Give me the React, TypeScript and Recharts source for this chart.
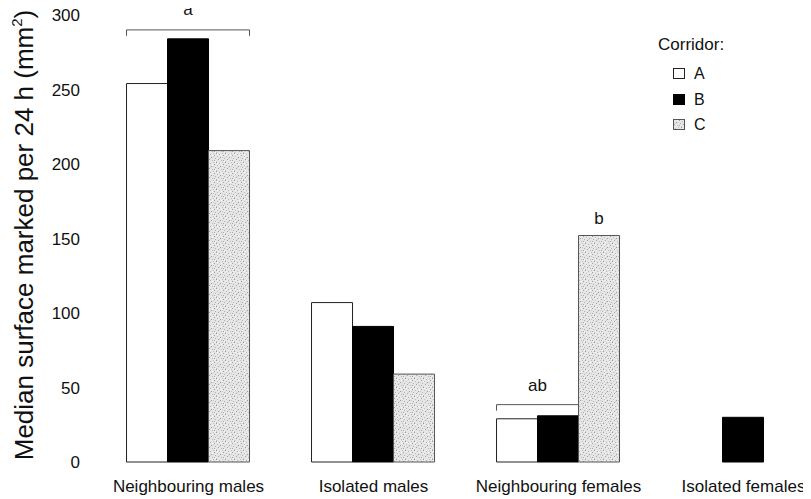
import React from 'react';
import { BarChart, Bar, XAxis, YAxis, Legend, LabelList } from 'recharts';

const categories = ['Neighbouring males', 'Isolated males', 'Neighbouring females', 'Isolated females'];
const corridorA: (number | null)[] = [254, 107, 29, null];
const corridorB: (number | null)[] = [284, 91, 31, 30];
const corridorC: (number | null)[] = [209, 59, 152, null];
const yTicks = [0, 50, 100, 150, 200, 250, 300];
const seriesNames = ['A', 'B', 'C'];

// Bracket annotations (start at corridor A bar of a category, span n bars)
const bracketIndex = [0, 2];
const bracketText = ['a', 'ab'];
const bracketSpan = [3, 2];
const bracketLevel = [290, 38.5];
const bracketTextLevel = [300, 47.5];
// Single-bar annotation over corridor C bar
const singleIndex = [2];
const singleText = ['b'];
const singleLevel = [160];

const FONT = '"Liberation Sans", Arial, Helvetica, sans-serif';

const data = categories.map((c, i) => ({ category: c, A: corridorA[i], B: corridorB[i], C: corridorC[i] }));

const getBox = (props: any) => {
  const vb = props.viewBox && props.viewBox.width !== undefined ? props.viewBox : props;
  return { x: Number(vb.x), y: Number(vb.y), width: Number(vb.width), height: Number(vb.height) };
};

const BracketLabel = (props: any) => {
  const { index, value } = props;
  const k = bracketIndex.indexOf(index);
  if (k < 0 || value == null) return null;
  const { x, y, width, height } = getBox(props);
  const ppu = height / Number(value);
  const base = y + height;
  const ly = base - bracketLevel[k] * ppu;
  const ty = base - bracketTextLevel[k] * ppu;
  const x2 = x + width * bracketSpan[k];
  return (
    <g>
      <path d={`M${x},${ly + 6}V${ly}H${x2}V${ly + 6}`} fill="none" stroke="#555" strokeWidth={1} />
      <text x={(x + x2) / 2} y={ty} textAnchor="middle" fontFamily={FONT} fontSize={17} fill="#111">
        {bracketText[k]}
      </text>
    </g>
  );
};

const SingleLabel = (props: any) => {
  const { index, value } = props;
  const k = singleIndex.indexOf(index);
  if (k < 0 || value == null) return null;
  const { x, y, width, height } = getBox(props);
  const ppu = height / Number(value);
  const base = y + height;
  const ty = base - singleLevel[k] * ppu;
  return (
    <text x={x + width / 2} y={ty} textAnchor="middle" fontFamily={FONT} fontSize={17} fill="#111">
      {singleText[k]}
    </text>
  );
};

const YTitle = (props: any) => {
  const cx = 33;
  const cy = 235;
  return (
    <text
      x={cx}
      y={cy}
      transform={`rotate(-90, ${cx}, ${cy})`}
      textAnchor="middle"
      fontFamily={FONT}
      fontSize={26}
      fill="#111"
    >
      Median surface marked per 24 h (mm<tspan fontSize={15} dy={-11}>2</tspan>
      <tspan dy={11}>)</tspan>
    </text>
  );
};

const swatchFill = ['#ffffff', '#000000', 'url(#speckle)'];
const swatchStroke = ['#222', '#000', '#555'];

const LegendContent = () => (
  <div style={{ position: 'relative', width: 110, height: 110, fontFamily: FONT, color: '#111' }}>
    <div style={{ position: 'absolute', left: 10, top: 3, fontSize: 17, lineHeight: '18px', whiteSpace: 'nowrap' }}>
      Corridor:
    </div>
    {seriesNames.map((n, i) => (
      <React.Fragment key={n}>
        <svg
          width={14}
          height={13}
          style={{ position: 'absolute', left: 24, top: 34 + i * 25.7 }}
        >
          <rect x={1.5} y={1.5} width={11} height={10} fill={swatchFill[i]} stroke={swatchStroke[i]} strokeWidth={1} />
        </svg>
        <div
          style={{ position: 'absolute', left: 46, top: 32 + i * 25.7, fontSize: 16, lineHeight: '18px' }}
        >
          {n}
        </div>
      </React.Fragment>
    ))}
  </div>
);

export default function App() {
  return (
    <div style={{ width: 811, height: 499, overflow: 'hidden', margin: '-8px 0 0 -8px' }}>
      <BarChart
        width={811}
        height={499}
        data={data}
        margin={{ top: -14.8, right: -25, bottom: 0, left: 0 }}
        barCategoryGap="16.5%"
        barGap={0}
      >
        <defs>
          <pattern id="speckle" width="9" height="9" patternUnits="userSpaceOnUse">
            <rect width="9" height="9" fill="#e6e6e6" />
            <rect x="0" y="0" width="1" height="1" fill="#9a9a9a" />
            <rect x="3" y="1" width="1" height="1" fill="#b5b5b5" />
            <rect x="6" y="0" width="1" height="1" fill="#c0c0c0" />
            <rect x="7" y="2" width="1" height="1" fill="#a0a0a0" />
            <rect x="1" y="3" width="1" height="1" fill="#bdbdbd" />
            <rect x="4" y="4" width="1" height="1" fill="#9c9c9c" />
            <rect x="8" y="5" width="1" height="1" fill="#b0b0b0" />
            <rect x="2" y="6" width="1" height="1" fill="#a5a5a5" />
            <rect x="5" y="7" width="1" height="1" fill="#bababa" />
            <rect x="0" y="8" width="1" height="1" fill="#c4c4c4" />
            <rect x="7" y="7" width="1" height="1" fill="#a8a8a8" />
            <rect x="6" y="4" width="1" height="1" fill="#cacaca" />
            <rect x="3" y="5" width="1" height="1" fill="#d0d0d0" />
            <rect x="1" y="1" width="1" height="1" fill="#f7f7f7" />
            <rect x="5" y="2" width="1" height="1" fill="#f7f7f7" />
            <rect x="8" y="8" width="1" height="1" fill="#f7f7f7" />
          </pattern>
        </defs>
        <XAxis
          dataKey="category"
          axisLine={false}
          tickLine={false}
          height={37}
          tickSize={6}
          tickMargin={12}
          interval={0}
          tick={{ fontFamily: FONT, fontSize: 17, fill: '#111' }}
        />
        <YAxis
          domain={[0, 320]}
          ticks={yTicks}
          axisLine={false}
          tickLine={false}
          width={96}
          tickSize={6}
          tickMargin={10}
          tick={{ fontFamily: FONT, fontSize: 17, fill: '#111' }}
          label={{ content: YTitle }}
        />
        <Legend
          layout="vertical"
          align="center"
          verticalAlign="middle"
          content={LegendContent}
          wrapperStyle={{ position: 'absolute', left: 648, top: 33, width: 110, height: 110 }}
        />
        <Bar dataKey="A" name="A" fill="#ffffff" stroke="#222" strokeWidth={1} isAnimationActive={false}>
          <LabelList dataKey="A" content={BracketLabel} />
        </Bar>
        <Bar dataKey="B" name="B" fill="#000000" stroke="#000" strokeWidth={1} isAnimationActive={false} />
        <Bar dataKey="C" name="C" fill="url(#speckle)" stroke="#555" strokeWidth={1} isAnimationActive={false}>
          <LabelList dataKey="C" content={SingleLabel} />
        </Bar>
      </BarChart>
    </div>
  );
}
